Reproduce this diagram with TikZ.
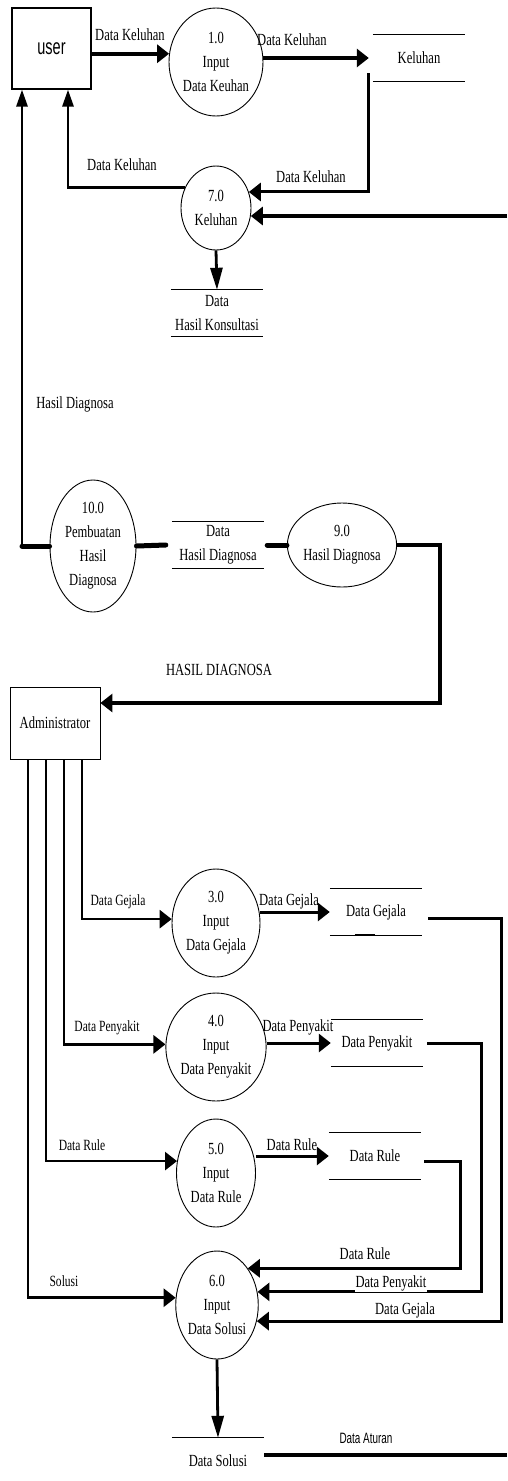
\documentclass[tikz,border=0pt]{standalone}
\usepackage{fontspec}
\setmainfont[FakeStretch=0.74]{Liberation Serif}
\newfontfamily\narrowsans[FakeStretch=0.66]{Liberation Sans}
\usetikzlibrary{shapes.geometric,arrows.meta}

\begin{document}
\begin{tikzpicture}[x=1pt,y=-1pt,
    font=\fontsize{17}{24}\selectfont,
    entity/.style={draw, line width=1.2pt, rectangle, inner sep=0pt},
    proc/.style={draw, line width=0.9pt, ellipse, inner sep=0pt, align=center},
    store/.style={minimum width=92pt, minimum height=46pt, inner sep=0pt, align=center,
      append after command={(\tikzlastnode.north west) edge[line width=0.9pt] (\tikzlastnode.north east)
        (\tikzlastnode.south west) edge[line width=0.9pt] (\tikzlastnode.south east)}},
    lbl/.style={inner sep=1pt},
    small/.style={font=\fontsize{15.6}{18}\selectfont},
    flow/.style={line width=3pt, -{Triangle[length=12pt,width=18pt]}},
    flowdown/.style={line width=2.8pt, -{Triangle[length=22pt,width=12pt]}},
    flowup/.style={line width=2.8pt, -{Triangle[length=17pt,width=11pt]}},
    stub/.style={line width=5pt, line cap=round}]
  \useasboundingbox (0,0) rectangle (507,1481);

  % user and keluhan
  \node[entity, minimum width=79pt, minimum height=81pt, font=\narrowsans\fontsize{22}{24}\selectfont] (user) at (51.5,48.5) {user};
  \node[proc, minimum width=94pt, minimum height=108pt] (p1) at (216,62) {1.0\\Input\\Data Keuhan};
  \node[store] (keluhan) at (419,58) {Keluhan};
  \node[proc, minimum width=70pt, minimum height=84pt] (p7) at (216,208) {7.0\\Keluhan};
  \node[store] (hkons) at (217,313) {Data\\Hasil Konsultasi};
  \coordinate (kin) at (507,216);
  \coordinate (hdup) at ([xshift=-29.5pt]user.south);

  \draw[flow, line width=4pt] (user.east |- p1.170) -- (p1.170);
  \draw[flow, line width=4pt] (p1.east |- keluhan.west) -- ([xshift=-4pt]keluhan.west);
  \draw[flow] ([xshift=-4pt,yshift=8pt]keluhan.south west) |- (p7.26);
  \draw[flow, line width=3.6pt] (kin) -- (kin -| p7.-13);
  \draw[flowup] (p7.147) -| ([xshift=16.5pt]user.south);
  \draw[flowdown] (p7.south) -- (hkons.north);

  \node[lbl] (l1) at (130,35) {Data Keluhan};
  \node[lbl] (l2) at (292,40) {Data Keluhan};
  \node[lbl] (l3) at (311,177) {Data Keluhan};
  \node[lbl] (l4) at (122,165) {Data Keluhan};

  % hasil diagnosa
  \node[proc, minimum width=86pt, minimum height=132pt] (p10) at (93,546) {10.0\\Pembuatan\\Hasil\\Diagnosa};
  \node[store] (hdiag) at (218,545) {Data\\Hasil Diagnosa};
  \node[proc, minimum width=105pt, minimum height=84pt] (p9) at (342,545) {9.0\\Hasil Diagnosa};
  \node[entity, minimum width=90pt, minimum height=72pt, line width=0.8pt] (admin) at (55,723) {Administrator};

  \draw[flowup] (p10.west) -| (hdup);
  \draw[stub] (p10.west) -- (p10.west -| hdup);
  \draw[stub] (p10.east) -- ([xshift=-6pt]hdiag.west);
  \draw[stub] ([xshift=3pt]hdiag.east) -- (p9.west);
  \draw[flow, line width=4pt] (p9.east) -- ++(43,0) |- ([yshift=20pt]admin.east);

  \node[lbl] (l5) at (75,404) {Hasil Diagnosa};
  \node[lbl] (l6) at (219,670) {HASIL DIAGNOSA};

  % input processes
  \node[proc, minimum width=88pt, minimum height=108pt] (p3) at (216,923) {3.0\\Input\\Data Gejala};
  \node[store] (sgejala) at (376,912) {Data Gejala};
  \node[proc, minimum width=100pt, minimum height=108pt] (p4) at (216,1047) {4.0\\Input\\Data Penyakit};
  \node[store] (spenyakit) at (377,1043) {Data Penyakit};
  \node[proc, minimum width=79pt, minimum height=108pt] (p5) at (216,1173) {5.0\\Input\\Data Rule};
  \node[store] (srule) at (375,1156) {Data Rule};
  \node[proc, minimum width=82pt, minimum height=108pt] (p6) at (217,1305) {6.0\\Input\\Data Solusi};
  \node[minimum width=92pt, minimum height=46pt, inner sep=0pt] (ssolusi) at (218,1461) {Data Solusi};
  \coordinate (aturan) at (507,1455);

  \draw[flow, line width=2.7pt] ([xshift=27pt]admin.south) |- (p3.175);
  \draw[flow, line width=2.7pt] ([xshift=9pt]admin.south) |- (p4.177);
  \draw[flow, line width=2.7pt] ([xshift=-9pt]admin.south) |- (p5.163);
  \draw[flow, line width=2.7pt] ([xshift=-27pt]admin.south) |- (p6.170);

  \draw[flow] (p3.east |- sgejala.west) -- (sgejala.west);
  \draw[flow] (p4.east |- spenyakit.west) -- (spenyakit.west);
  \draw[flow] (p5.east |- srule.west) -- (srule.west);
  \draw[line width=1.5pt] ([xshift=25pt]sgejala.south west) -- ([xshift=45pt]sgejala.south west);

  \draw[flow] ([xshift=6pt,yshift=-6pt]sgejala.east) -- ++(73,0) |- (p6.-22);
  \draw[flow] ([xshift=4pt]spenyakit.east) -- ++(54,0) |- (p6.18);
  \draw[flow] ([xshift=3pt,yshift=-5pt]srule.east) -- ++(36,0) |- (p6.50);

  \draw[flowdown] (p6.south) -- (ssolusi.north);
  \draw[line width=0.9pt] (ssolusi.north west) -- (ssolusi.north east);
  \draw[line width=3.5pt] (aturan -| ssolusi.east) -- (aturan);

  \node[lbl, small] (l7) at (118,902) {Data Gejala};
  \node[lbl] (l8) at (289,901) {Data Gejala};
  \node[lbl, small] (l9) at (107,1028) {Data Penyakit};
  \node[lbl] (l10) at (298,1027) {Data Penyakit};
  \node[lbl, small] (l11) at (82,1145) {Data Rule};
  \node[lbl] (l12) at (292,1145) {Data Rule};
  \node[lbl, fill=white] (l13) at (365,1254) {Data Rule};
  \node[lbl, fill=white] (l14) at (391,1283) {Data Penyakit};
  \node[lbl, fill=white] (l15) at (405,1310) {Data Gejala};
  \node[lbl, small] (l16) at (64,1281) {Solusi};
  \node[lbl, font=\narrowsans\fontsize{15}{17}\selectfont] (l17) at (366,1438) {Data Aturan};
\end{tikzpicture}
\end{document}
